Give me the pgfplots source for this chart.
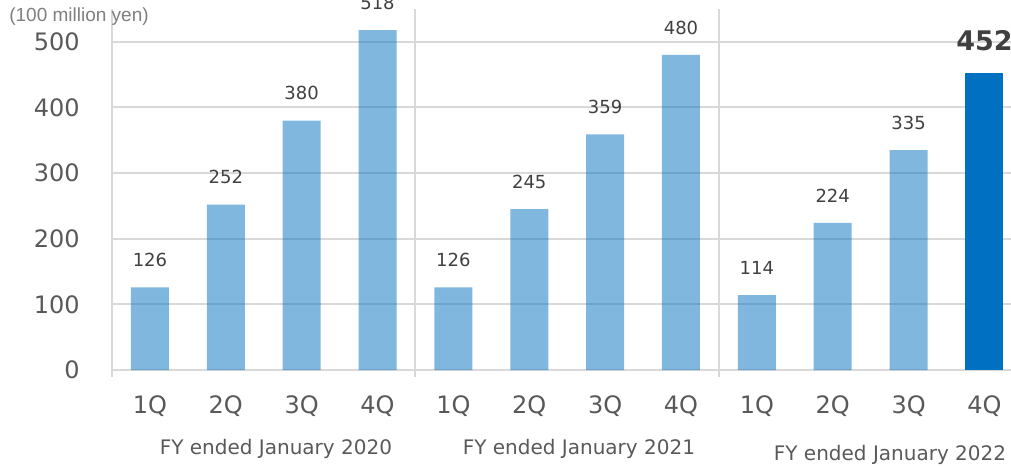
\documentclass[border=0pt]{standalone}
\usepackage{pgfplots}
\pgfplotsset{compat=1.18}
\usepackage{fontspec}
\setmainfont{DejaVu Sans}
\newfontfamily\unitfont{Liberation Sans}
\definecolor{barblue}{HTML}{0070C0}
\definecolor{gridgray}{HTML}{D9D9D9}
\definecolor{ticktext}{HTML}{595959}
\definecolor{valtext}{HTML}{404040}
\definecolor{unittext}{HTML}{7F7F7F}

\pgfplotstableread{
x  val
0  126
1  252
2  380
3  518
4  126
5  245
6  359
7  480
8  114
9  224
10 335
}\quarters
\pgfplotstableread{
x  val
11 452
}\latest

\begin{document}
\begin{tikzpicture}
\begin{axis}[
  at={(0,0)}, anchor=south west,
  scale only axis,
  width=449.5pt, height=180.5pt,
  xmin=-0.5, xmax=11.35,
  ymin=0, ymax=550,
  ytick={0,100,...,500},
  xtick={0,...,11},
  xticklabels={1Q,2Q,3Q,4Q,1Q,2Q,3Q,4Q,1Q,2Q,3Q,4Q},
  major tick length=0pt,
  axis lines*=left,
  x axis line style={draw=gridgray, line width=1pt, -},
  y axis line style={draw=none},
  ymajorgrids,
  grid style={draw=gridgray, line width=1pt},
  /pgf/number format/assume math mode=true,
  ticklabel style={font=\fontsize{12}{14}\selectfont, text=ticktext, inner sep=0pt},
  yticklabel style={anchor=east, xshift=-16pt},
  xticklabel style={anchor=north, yshift=-12.5pt},
  ybar, bar width=19pt, bar shift=0pt,
  clip=false,
  nodes near coords,
  nodes near coords style={inner sep=0pt, anchor=south},
]
\addplot[fill=barblue, fill opacity=0.5, draw=none,
  nodes near coords style={font=\fontsize{9}{11}\selectfont, text=valtext,
    text opacity=1, yshift=10pt}]
  table[x=x, y=val] {\quarters};
\addplot[fill=barblue, draw=none,
  nodes near coords style={font=\fontsize{13.5}{15}\selectfont\bfseries,
    text=valtext, yshift=11pt}]
  table[x=x, y=val] {\latest};

% left edge and fiscal-year separators
\draw[gridgray, line width=1pt] (axis cs:-0.5,550) -- ([yshift=-3.5pt]axis cs:-0.5,0);
\draw[gridgray, line width=1pt] (axis cs:3.5,550) -- ([yshift=-3.5pt]axis cs:3.5,0);
\draw[gridgray, line width=1pt] (axis cs:7.5,550) -- ([yshift=-3.5pt]axis cs:7.5,0);

% fiscal-year captions
\node[font=\fontsize{10}{12}\selectfont, text=ticktext]
  at ([yshift=-39.5pt]axis cs:1.661,0) {FY ended January 2020};
\node[font=\fontsize{10}{12}\selectfont, text=ticktext]
  at ([yshift=-39.5pt]axis cs:5.655,0) {FY ended January 2021};
\node[font=\fontsize{10}{12}\selectfont, text=ticktext]
  at ([yshift=-42.5pt]axis cs:9.755,0) {FY ended January 2022};
\end{axis}

% unit of the values
\node[font=\unitfont\fontsize{9.5}{11}\selectfont, text=unittext]
  at (-16.5pt,176.5pt) {(100 million yen)};

\pgfresetboundingbox
\useasboundingbox (-56pt,-48pt) rectangle (449.5pt,185pt);
\end{tikzpicture}
\end{document}
